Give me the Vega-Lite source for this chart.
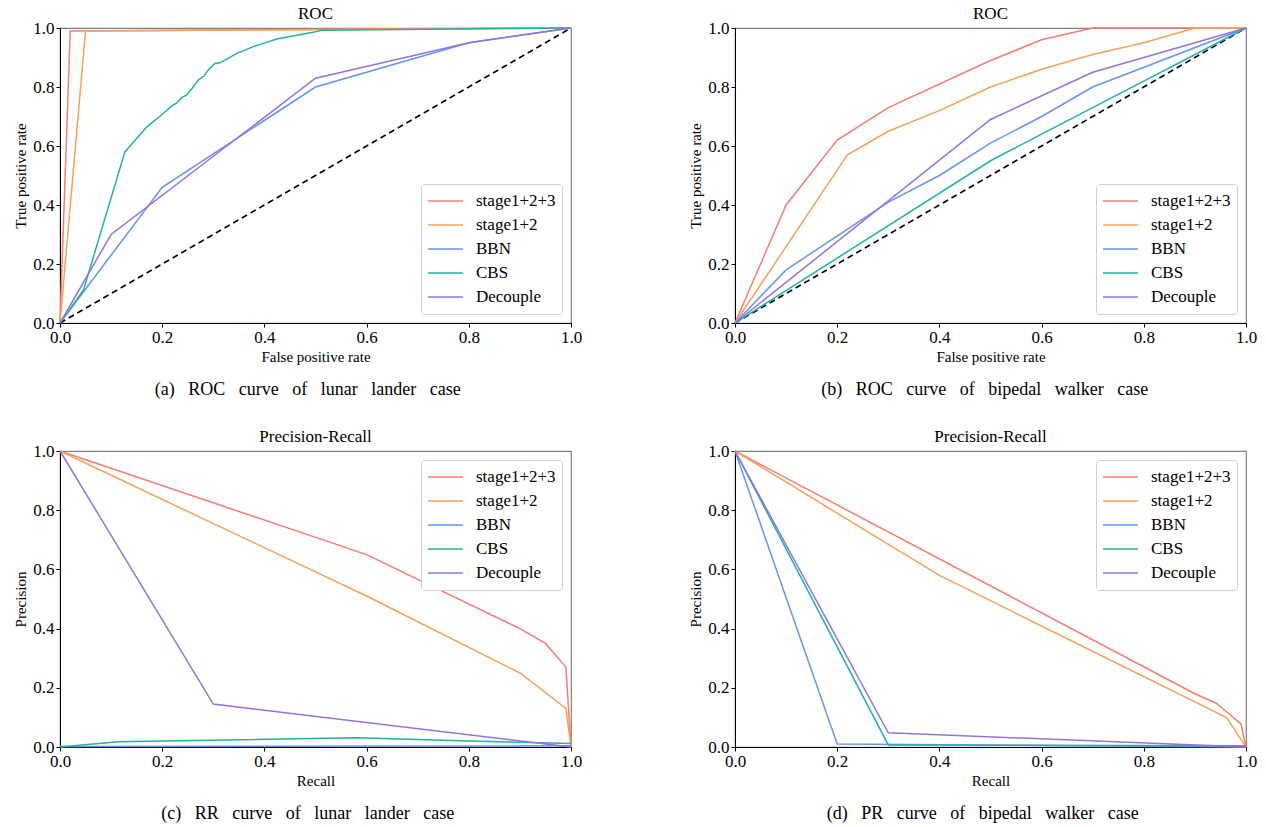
{
  "$schema": "https://vega.github.io/schema/vega-lite/v6.json",
  "padding": {"left": 13, "top": 4, "right": 3, "bottom": 0},
  "background": "white",
  "datasets": {
    "diag": [{"x": 0, "y": 0}, {"x": 1, "y": 1}],
    "roc_a": [
      {"m": "stage1+2+3", "x": 0, "y": 0}, {"m": "stage1+2+3", "x": 0.02, "y": 0.99}, {"m": "stage1+2+3", "x": 1, "y": 1},
      {"m": "stage1+2", "x": 0, "y": 0}, {"m": "stage1+2", "x": 0.05, "y": 0.99}, {"m": "stage1+2", "x": 1, "y": 1},
      {"m": "BBN", "x": 0, "y": 0}, {"m": "BBN", "x": 0.2, "y": 0.46}, {"m": "BBN", "x": 0.5, "y": 0.8}, {"m": "BBN", "x": 0.8, "y": 0.95}, {"m": "BBN", "x": 1, "y": 1},
      {"m": "CBS", "x": 0, "y": 0}, {"m": "CBS", "x": 0.046, "y": 0.112}, {"m": "CBS", "x": 0.127, "y": 0.58}, {"m": "CBS", "x": 0.17, "y": 0.665}, {"m": "CBS", "x": 0.202, "y": 0.71}, {"m": "CBS", "x": 0.218, "y": 0.735}, {"m": "CBS", "x": 0.228, "y": 0.745}, {"m": "CBS", "x": 0.238, "y": 0.764}, {"m": "CBS", "x": 0.248, "y": 0.773}, {"m": "CBS", "x": 0.261, "y": 0.801}, {"m": "CBS", "x": 0.271, "y": 0.824}, {"m": "CBS", "x": 0.282, "y": 0.837}, {"m": "CBS", "x": 0.29, "y": 0.858}, {"m": "CBS", "x": 0.303, "y": 0.88}, {"m": "CBS", "x": 0.313, "y": 0.882}, {"m": "CBS", "x": 0.329, "y": 0.897}, {"m": "CBS", "x": 0.346, "y": 0.914}, {"m": "CBS", "x": 0.362, "y": 0.925}, {"m": "CBS", "x": 0.378, "y": 0.937}, {"m": "CBS", "x": 0.398, "y": 0.948}, {"m": "CBS", "x": 0.424, "y": 0.963}, {"m": "CBS", "x": 0.5, "y": 0.987}, {"m": "CBS", "x": 0.512, "y": 0.992}, {"m": "CBS", "x": 1, "y": 1},
      {"m": "Decouple", "x": 0, "y": 0}, {"m": "Decouple", "x": 0.1, "y": 0.3}, {"m": "Decouple", "x": 0.5, "y": 0.83}, {"m": "Decouple", "x": 0.8, "y": 0.95}, {"m": "Decouple", "x": 1, "y": 1}
    ],
    "roc_b": [
      {"m": "stage1+2+3", "x": 0, "y": 0}, {"m": "stage1+2+3", "x": 0.1, "y": 0.4}, {"m": "stage1+2+3", "x": 0.2, "y": 0.62}, {"m": "stage1+2+3", "x": 0.3, "y": 0.73}, {"m": "stage1+2+3", "x": 0.5, "y": 0.89}, {"m": "stage1+2+3", "x": 0.6, "y": 0.96}, {"m": "stage1+2+3", "x": 0.7, "y": 1.0}, {"m": "stage1+2+3", "x": 1, "y": 1},
      {"m": "stage1+2", "x": 0, "y": 0}, {"m": "stage1+2", "x": 0.22, "y": 0.57}, {"m": "stage1+2", "x": 0.3, "y": 0.65}, {"m": "stage1+2", "x": 0.4, "y": 0.72}, {"m": "stage1+2", "x": 0.5, "y": 0.8}, {"m": "stage1+2", "x": 0.6, "y": 0.86}, {"m": "stage1+2", "x": 0.7, "y": 0.91}, {"m": "stage1+2", "x": 0.8, "y": 0.95}, {"m": "stage1+2", "x": 0.9, "y": 1.0}, {"m": "stage1+2", "x": 1, "y": 1},
      {"m": "BBN", "x": 0, "y": 0}, {"m": "BBN", "x": 0.1, "y": 0.18}, {"m": "BBN", "x": 0.3, "y": 0.41}, {"m": "BBN", "x": 0.4, "y": 0.5}, {"m": "BBN", "x": 0.5, "y": 0.61}, {"m": "BBN", "x": 0.6, "y": 0.7}, {"m": "BBN", "x": 0.7, "y": 0.8}, {"m": "BBN", "x": 1, "y": 1},
      {"m": "CBS", "x": 0, "y": 0}, {"m": "CBS", "x": 0.5, "y": 0.55}, {"m": "CBS", "x": 0.6, "y": 0.64}, {"m": "CBS", "x": 0.7, "y": 0.73}, {"m": "CBS", "x": 1, "y": 1},
      {"m": "Decouple", "x": 0, "y": 0}, {"m": "Decouple", "x": 0.5, "y": 0.69}, {"m": "Decouple", "x": 0.7, "y": 0.85}, {"m": "Decouple", "x": 0.8, "y": 0.9}, {"m": "Decouple", "x": 1, "y": 1}
    ],
    "pr_c": [
      {"m": "stage1+2+3", "x": 0, "y": 1}, {"m": "stage1+2+3", "x": 0.6, "y": 0.65}, {"m": "stage1+2+3", "x": 0.9, "y": 0.4}, {"m": "stage1+2+3", "x": 0.95, "y": 0.35}, {"m": "stage1+2+3", "x": 0.99, "y": 0.27}, {"m": "stage1+2+3", "x": 1, "y": 0},
      {"m": "stage1+2", "x": 0, "y": 1}, {"m": "stage1+2", "x": 0.6, "y": 0.51}, {"m": "stage1+2", "x": 0.9, "y": 0.25}, {"m": "stage1+2", "x": 0.99, "y": 0.13}, {"m": "stage1+2", "x": 1, "y": 0},
      {"m": "BBN", "x": 0, "y": 0.002}, {"m": "BBN", "x": 1, "y": 0.004},
      {"m": "CBS", "x": 0, "y": 0}, {"m": "CBS", "x": 0.114, "y": 0.018}, {"m": "CBS", "x": 0.58, "y": 0.031}, {"m": "CBS", "x": 0.8, "y": 0.02}, {"m": "CBS", "x": 1, "y": 0.012},
      {"m": "Decouple", "x": 0, "y": 1}, {"m": "Decouple", "x": 0.3, "y": 0.145}, {"m": "Decouple", "x": 1, "y": 0}
    ],
    "pr_d": [
      {"m": "stage1+2+3", "x": 0, "y": 1}, {"m": "stage1+2+3", "x": 0.9, "y": 0.18}, {"m": "stage1+2+3", "x": 0.942, "y": 0.148}, {"m": "stage1+2+3", "x": 0.962, "y": 0.119}, {"m": "stage1+2+3", "x": 0.99, "y": 0.078}, {"m": "stage1+2+3", "x": 1, "y": 0},
      {"m": "stage1+2", "x": 0, "y": 1}, {"m": "stage1+2", "x": 0.4, "y": 0.58}, {"m": "stage1+2", "x": 0.962, "y": 0.099}, {"m": "stage1+2", "x": 1, "y": 0},
      {"m": "BBN", "x": 0, "y": 1}, {"m": "BBN", "x": 0.2, "y": 0.01}, {"m": "BBN", "x": 1, "y": 0},
      {"m": "CBS", "x": 0, "y": 1}, {"m": "CBS", "x": 0.3, "y": 0.007}, {"m": "CBS", "x": 1, "y": 0.004},
      {"m": "Decouple", "x": 0, "y": 1}, {"m": "Decouple", "x": 0.3, "y": 0.048}, {"m": "Decouple", "x": 1, "y": 0}
    ]
  },
  "columns": 2,
  "spacing": {"column": 105, "row": 28},
  "resolve": {"scale": {"color": "independent"}, "legend": {"color": "independent"}},
  "concat": [
    {
      "title": {"text": "(a)\u00a0\u00a0 ROC\u00a0\u00a0 curve\u00a0\u00a0 of\u00a0\u00a0 lunar\u00a0\u00a0 lander\u00a0\u00a0 case", "orient": "bottom", "anchor": "middle", "fontSize": 18, "offset": 16, "dx": 10},
      "resolve": {"scale": {"color": "independent"}, "legend": {"color": "independent"}},
      "vconcat": [
        {
          "title": "ROC",
          "width": 511, "height": 295,
          "layer": [
            {"data": {"name": "diag"}, "mark": {"type": "line", "color": "black", "strokeDash": [6, 4], "strokeWidth": 1.5},
             "encoding": {"x": {"field": "x", "type": "quantitative"}, "y": {"field": "y", "type": "quantitative"}}},
            {"data": {"name": "roc_a"}, "mark": {"type": "line", "strokeWidth": 1.5},
             "encoding": {
               "x": {"field": "x", "type": "quantitative", "title": "False positive rate", "scale": {"domain": [0, 1], "nice": false}, "axis": {"values": [0, 0.2, 0.4, 0.6, 0.8, 1], "format": ".1f"}},
               "y": {"field": "y", "type": "quantitative", "title": "True positive rate", "scale": {"domain": [0, 1], "nice": false}, "axis": {"values": [0, 0.2, 0.4, 0.6, 0.8, 1], "format": ".1f"}},
               "color": {"field": "m", "type": "nominal", "scale": {"domain": ["stage1+2+3", "stage1+2", "BBN", "CBS", "Decouple"], "range": ["#F87C6F", "#F8A15A", "#6096EE", "#21B2A6", "#9572DF"]}, "legend": {"orient": "bottom-right"}}
             }}
          ]
        }
      ]
    },
    {
      "title": {"text": "(b)\u00a0\u00a0 ROC\u00a0\u00a0 curve\u00a0\u00a0 of\u00a0\u00a0 bipedal\u00a0\u00a0 walker\u00a0\u00a0 case", "orient": "bottom", "anchor": "middle", "fontSize": 18, "offset": 16, "dx": 12},
      "resolve": {"scale": {"color": "independent"}, "legend": {"color": "independent"}},
      "vconcat": [
        {
          "title": "ROC",
          "width": 511, "height": 295,
          "layer": [
            {"data": {"name": "diag"}, "mark": {"type": "line", "color": "black", "strokeDash": [6, 4], "strokeWidth": 1.5},
             "encoding": {"x": {"field": "x", "type": "quantitative"}, "y": {"field": "y", "type": "quantitative"}}},
            {"data": {"name": "roc_b"}, "mark": {"type": "line", "strokeWidth": 1.5},
             "encoding": {
               "x": {"field": "x", "type": "quantitative", "title": "False positive rate", "scale": {"domain": [0, 1], "nice": false}, "axis": {"values": [0, 0.2, 0.4, 0.6, 0.8, 1], "format": ".1f"}},
               "y": {"field": "y", "type": "quantitative", "title": "True positive rate", "scale": {"domain": [0, 1], "nice": false}, "axis": {"values": [0, 0.2, 0.4, 0.6, 0.8, 1], "format": ".1f"}},
               "color": {"field": "m", "type": "nominal", "scale": {"domain": ["stage1+2+3", "stage1+2", "BBN", "CBS", "Decouple"], "range": ["#F87C6F", "#F8A15A", "#6096EE", "#21B2A6", "#9572DF"]}, "legend": {"orient": "bottom-right"}}
             }}
          ]
        }
      ]
    },
    {
      "title": {"text": "(c)\u00a0\u00a0 RR\u00a0\u00a0 curve\u00a0\u00a0 of\u00a0\u00a0 lunar\u00a0\u00a0 lander\u00a0\u00a0 case", "orient": "bottom", "anchor": "middle", "fontSize": 18, "offset": 16, "dx": 10},
      "resolve": {"scale": {"color": "independent"}, "legend": {"color": "independent"}},
      "vconcat": [
        {
          "title": "Precision-Recall",
          "width": 511, "height": 296,
          "layer": [
            {"data": {"name": "pr_c"}, "mark": {"type": "line", "strokeWidth": 1.5},
             "encoding": {
               "x": {"field": "x", "type": "quantitative", "title": "Recall", "scale": {"domain": [0, 1], "nice": false}, "axis": {"values": [0, 0.2, 0.4, 0.6, 0.8, 1], "format": ".1f"}},
               "y": {"field": "y", "type": "quantitative", "title": "Precision", "scale": {"domain": [0, 1], "nice": false}, "axis": {"values": [0, 0.2, 0.4, 0.6, 0.8, 1], "format": ".1f"}},
               "color": {"field": "m", "type": "nominal", "scale": {"domain": ["stage1+2+3", "stage1+2", "BBN", "CBS", "Decouple"], "range": ["#F87C6F", "#F8A15A", "#6096EE", "#21B2A6", "#9572DF"]}, "legend": {"orient": "top-right"}}
             }}
          ]
        }
      ]
    },
    {
      "title": {"text": "(d)\u00a0\u00a0 PR\u00a0\u00a0 curve\u00a0\u00a0 of\u00a0\u00a0 bipedal\u00a0\u00a0 walker\u00a0\u00a0 case", "orient": "bottom", "anchor": "middle", "fontSize": 18, "offset": 16, "dx": 10},
      "resolve": {"scale": {"color": "independent"}, "legend": {"color": "independent"}},
      "vconcat": [
        {
          "title": "Precision-Recall",
          "width": 511, "height": 296,
          "layer": [
            {"data": {"name": "pr_d"}, "mark": {"type": "line", "strokeWidth": 1.5},
             "encoding": {
               "x": {"field": "x", "type": "quantitative", "title": "Recall", "scale": {"domain": [0, 1], "nice": false}, "axis": {"values": [0, 0.2, 0.4, 0.6, 0.8, 1], "format": ".1f"}},
               "y": {"field": "y", "type": "quantitative", "title": "Precision", "scale": {"domain": [0, 1], "nice": false}, "axis": {"values": [0, 0.2, 0.4, 0.6, 0.8, 1], "format": ".1f"}},
               "color": {"field": "m", "type": "nominal", "scale": {"domain": ["stage1+2+3", "stage1+2", "BBN", "CBS", "Decouple"], "range": ["#F87C6F", "#F8A15A", "#6096EE", "#21B2A6", "#9572DF"]}, "legend": {"orient": "top-right"}}
             }}
          ]
        }
      ]
    }
  ],
  "config": {
    "font": "Liberation Serif, Times New Roman, serif",
    "view": {"stroke": "#808080", "strokeWidth": 1.2},
    "axis": {"grid": false, "labelFlush": false, "labelOverlap": false, "domainColor": "#000000", "domainWidth": 1, "tickColor": "#000000", "tickSize": 4, "labelFont": "Liberation Serif, Times New Roman, serif", "labelFontSize": 17, "labelColor": "#000000", "labelPadding": 2, "titleFont": "Liberation Serif, Times New Roman, serif", "titleFontSize": 15, "titleFontWeight": "normal", "titleColor": "#000000", "titlePadding": 4},
    "title": {"font": "Liberation Serif, Times New Roman, serif", "fontSize": 17, "fontWeight": "normal", "color": "#000000", "offset": -4},
    "legend": {"title": null, "labelFont": "Liberation Serif, Times New Roman, serif", "labelFontSize": 17, "labelColor": "#000000", "symbolType": "stroke", "symbolSize": 1225, "symbolStrokeWidth": 1.5, "labelOffset": 12, "clipHeight": 22, "rowPadding": 2, "strokeColor": "#d0d0d0", "fillColor": "white", "cornerRadius": 3, "padding": 6, "offset": 9}
  }
}
